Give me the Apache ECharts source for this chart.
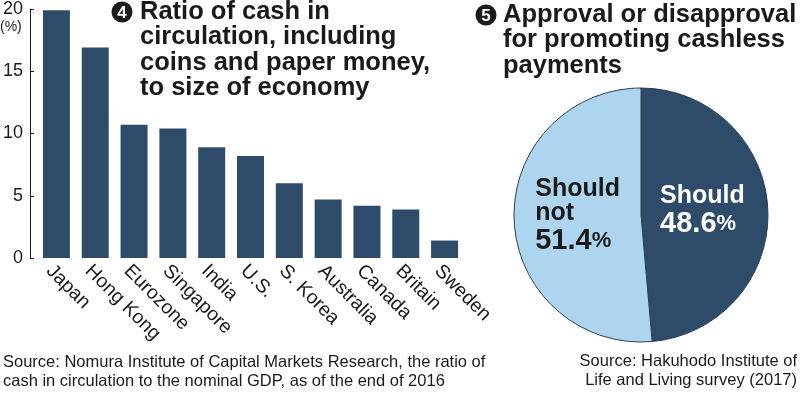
<!DOCTYPE html>
<html>
<head>
<meta charset="utf-8">
<script src="https://cdn.jsdelivr.net/npm/echarts@6/dist/echarts.min.js"></script>
<style>
html,body{margin:0;padding:0;background:#fff;}
#main{width:800px;height:393px;}
</style>
</head>
<body>
<div id="main"></div>
<script>
const categories = ['Japan', 'Hong Kong', 'Eurozone', 'Singapore', 'India', 'U.S.', 'S. Korea', 'Australia', 'Canada', 'Britain', 'Sweden'];
const cashRatio = [19.9, 16.9, 10.7, 10.4, 8.9, 8.2, 6.0, 4.7, 4.2, 3.9, 1.4];
const yTicks = [0, 5, 10, 15, 20];
const pieNames = ['Should', 'Should not'];
const pieValues = [48.6, 51.4];
const title1Lines = ['Ratio of cash in', 'circulation, including', 'coins and paper money,', 'to size of economy'];
const title2Lines = ['Approval or disapproval', 'for promoting cashless', 'payments'];
const source1Lines = ['Source: Nomura Institute of Capital Markets Research, the ratio of', 'cash in circulation to the nominal GDP, as of the end of 2016'];
const source2Lines = ['Source: Hakuhodo Institute of', 'Life and Living survey (2017)'];

const FONT = '"Liberation Sans", Arial, Helvetica, sans-serif';
const DARK = '#2f4b6a';
const LIGHT = '#aed5f0';
const INK = '#1a1a1a';

const chart = echarts.init(document.getElementById('main'), null, {renderer: 'canvas'});

function badge(num, cx, cy) {
  return {
    type: 'group',
    children: [
      {type: 'circle', shape: {cx: cx, cy: cy, r: 10.5}, style: {fill: INK}},
      {type: 'text', x: cx, y: cy + 1, style: {text: num, fill: '#fff', font: 'bold 17px ' + FONT, align: 'center', verticalAlign: 'middle'}}
    ]
  };
}

const option = {
  backgroundColor: '#ffffff',
  animation: false,
  textStyle: {fontFamily: FONT},
  grid: {left: 35, right: 336, top: 7, bottom: 135, containLabel: false},
  xAxis: {
    type: 'category',
    data: categories,
    axisLine: {show: false},
    axisTick: {show: false},
    axisLabel: {
      rotate: -45,
      interval: 0,
      margin: 3,
      verticalAlign: 'top',
      color: INK,
      fontSize: 19.5,
      fontFamily: FONT
    }
  },
  yAxis: {
    type: 'value',
    min: yTicks[0],
    max: yTicks[yTicks.length - 1],
    interval: 5,
    offset: 7,
    splitLine: {show: false},
    axisLine: {show: true, lineStyle: {color: INK, width: 1}},
    axisTick: {show: true, inside: true, length: 4, lineStyle: {color: INK, width: 1}},
    axisLabel: {color: INK, fontSize: 18, fontFamily: FONT, margin: 7}
  },
  series: [
    {
      type: 'bar',
      data: cashRatio,
      barWidth: 27,
      itemStyle: {color: DARK},
      silent: true
    },
    {
      type: 'pie',
      center: [641, 215],
      radius: [0, 127],
      startAngle: 90,
      clockwise: true,
      silent: true,
      data: pieNames.map((n, i) => ({
        name: n,
        value: pieValues[i],
        itemStyle: {color: i === 0 ? DARK : LIGHT},
        label: {color: i === 0 ? '#ffffff' : INK, offset: i === 0 ? [-5, 0] : [3, -1]}
      })),
      itemStyle: {borderColor: '#2a3f56', borderWidth: 1},
      label: {
        show: true,
        position: 'inside',
        align: 'left',
        formatter: function (p) {
          const words = p.name.split(' ').map(w => '{a|' + w + '}').join('\n');
          return words + '\n{n|' + p.value.toFixed(1) + '}{p|%}';
        },
        rich: {
          a: {fontSize: 25, fontWeight: 'bold', fontFamily: FONT, lineHeight: 24, align: 'left'},
          n: {fontSize: 29, fontWeight: 'bold', fontFamily: FONT, lineHeight: 32, align: 'left'},
          p: {fontSize: 22, fontWeight: 'bold', fontFamily: FONT, lineHeight: 32, align: 'left'}
        }
      },
      labelLine: {show: false}
    }
  ],
  graphic: [
    {type: 'text', x: 0, y: 27, style: {text: '(%)', fill: INK, font: '14px ' + FONT, align: 'left', verticalAlign: 'middle'}},
    badge('4', 122, 12),
    {type: 'text', x: 140, y: -1, style: {text: title1Lines.join('\n'), fill: INK, font: 'bold 25.5px ' + FONT, lineHeight: 25.5, align: 'left', verticalAlign: 'top'}},
    badge('5', 486, 15),
    {type: 'text', x: 503, y: 2, style: {text: title2Lines.join('\n'), fill: INK, font: 'bold 25.5px ' + FONT, lineHeight: 25.5, align: 'left', verticalAlign: 'top'}},
    {type: 'text', x: 3, y: 353, style: {text: source1Lines.join('\n'), fill: INK, font: '16.5px ' + FONT, lineHeight: 19, align: 'left', verticalAlign: 'top'}},
    {type: 'text', x: 797, y: 352, style: {text: source2Lines.join('\n'), fill: INK, font: '16.5px ' + FONT, lineHeight: 19, align: 'right', verticalAlign: 'top'}}
  ]
};
chart.setOption(option);
</script>
</body>
</html>
